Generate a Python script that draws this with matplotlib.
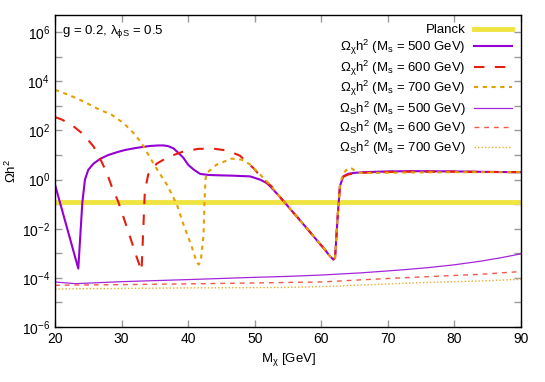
import numpy as np
import matplotlib
matplotlib.use("Agg")
import matplotlib.pyplot as plt
from matplotlib.ticker import FixedLocator, NullFormatter

plt.rcParams['font.family'] = ['Liberation Sans', 'DejaVu Sans']
plt.rcParams['mathtext.fontset'] = 'custom'
plt.rcParams['mathtext.rm'] = 'Liberation Sans'
plt.rcParams['mathtext.it'] = 'Liberation Sans:italic'
plt.rcParams['mathtext.bf'] = 'Liberation Sans:bold'
plt.rcParams['mathtext.default'] = 'regular'

# %% data
planck = 0.12

m_chi500 = [20.0, 23.5, 24.1, 24.5, 25.0, 25.8, 26.8, 28.0, 29.3, 30.5, 31.8, 33.0, 34.3, 35.5,
            36.3, 37.0, 37.8, 38.5, 39.3, 40.0, 40.8, 41.8, 43.0, 44.3, 46.5, 49.3, 50.8, 51.8,
            52.3, 53.5, 54.5, 55.5, 56.5, 57.5, 58.5, 59.5, 60.5, 61.3, 61.8, 62.06, 62.5, 62.8,
            63.3, 64.0, 64.8, 66.3, 70.0, 73.8, 80.0, 85.0, 90.0]
om_chi500 = [0.63, 2.4e-4, 0.11, 1.0, 2.5, 4.5, 7.0, 10.0, 13.0, 16.0, 18.6, 21.0, 23.4, 24.5,
             24.6, 23.0, 18.6, 12.5, 7.6, 4.0, 2.6, 1.7, 1.55, 1.5, 1.45, 1.35, 1.0, 0.72,
             0.54, 0.24, 0.117, 0.056, 0.0275, 0.0132, 0.0063, 0.003, 0.00145, 7.6e-4, 5.6e-4, 6.5e-4, 0.045, 0.54,
             1.35, 1.7, 1.86, 2.0, 2.15, 2.2, 2.15, 2.05, 2.0]

m_chi600 = [20.0, 21.0, 22.5, 24.3, 25.8, 26.8, 27.8, 28.5, 29.5, 31.0, 32.3, 33.0, 33.3, 33.5,
            34.0, 34.5, 35.3, 37.0, 39.3, 41.5, 43.8, 46.0, 47.8, 49.8, 51.3, 52.8, 53.5, 54.5,
            55.5, 56.5, 57.5, 58.5, 59.5, 60.5, 61.3, 61.8, 62.06, 62.5, 62.8, 63.3, 64.0, 64.8,
            66.3, 70.0, 73.8, 80.0, 85.0, 90.0]
om_chi600 = [350.0, 280.0, 170.0, 68.0, 22.0, 6.9, 1.86, 0.54, 0.126, 7.9e-3, 6.6e-4, 1.9e-4, 0.017, 0.34,
             1.6, 2.6, 4.5, 8.3, 14.0, 17.8, 18.2, 15.0, 9.3, 2.95, 1.0, 0.46, 0.24, 0.117,
             0.056, 0.0275, 0.0132, 0.0063, 0.003, 0.00145, 7.6e-4, 5.6e-4, 6.5e-4, 0.045, 0.54, 1.3, 1.6, 1.75,
             1.9, 2.05, 2.1, 2.1, 2.05, 2.0]

m_chi700 = [20.0, 22.3, 24.3, 26.5, 28.5, 30.3, 31.8, 33.0, 34.3, 35.5, 36.8, 38.3, 39.3, 40.5,
            41.3, 41.6, 41.9, 42.3, 42.45, 42.6, 42.8, 44.3, 46.5, 48.0, 49.3, 50.8, 52.3, 53.5,
            54.5, 55.5, 56.5, 57.5, 58.5, 59.5, 60.5, 61.3, 61.8, 62.06, 62.5, 62.8, 63.3, 64.1,
            64.6, 65.3, 66.3, 70.0, 73.8, 80.0, 85.0, 90.0]
om_chi700 = [4500.0, 2630.0, 1510.0, 740.0, 437.0, 200.0, 78.0, 31.0, 7.6, 2.2, 0.63, 0.098, 0.0148, 2.0e-3,
             4.2e-4, 3.5e-4, 5.0e-4, 5.0e-3, 0.11, 1.0, 1.86, 4.1, 7.1, 6.5, 4.1, 1.6, 0.63, 0.24,
             0.117, 0.056, 0.0275, 0.0132, 0.0063, 0.003, 0.00145, 7.6e-4, 5.6e-4, 6.5e-4, 0.045, 0.6, 1.8, 3.0,
             2.8, 2.0, 1.85, 1.9, 1.95, 2.0, 2.0, 2.0]

m_s = [20, 23, 30, 40, 50, 55, 60, 66, 72, 76, 80, 84, 87, 90]
om_s500 = [6.8e-5, 5.8e-5, 7.0e-5, 8.5e-5, 1.05e-4, 1.15e-4, 1.3e-4, 1.6e-4, 2.1e-4, 2.6e-4, 3.4e-4, 4.8e-4, 6.6e-4, 9.5e-4]
om_s600 = [5.0e-5, 5.1e-5, 5.3e-5, 5.7e-5, 6.2e-5, 6.5e-5, 6.8e-5, 8.3e-5, 1.0e-4, 1.12e-4, 1.25e-4, 1.4e-4, 1.6e-4, 1.8e-4]
om_s700 = [3.5e-5, 3.6e-5, 3.7e-5, 3.9e-5, 4.0e-5, 4.1e-5, 4.4e-5, 5.1e-5, 5.9e-5, 6.5e-5, 7.0e-5, 7.5e-5, 8.1e-5, 8.7e-5]

c_purple = '#9400d3'
c_red = '#e51e10'
c_orange = '#e69f00'
c_yellow = '#f0e442'

# %%
fig = plt.figure(figsize=(5.45, 3.82), dpi=100)
ax = fig.add_axes([0.1009, 0.144, 0.8551, 0.8167])

ax.axhline(planck, color=c_yellow, lw=3.5, label='Planck')
ax.plot(m_chi500, om_chi500, color=c_purple, lw=1.5, label=r'$\Omega_\chi h^2$ ($M_s$ = 500 GeV)')
ax.plot(m_chi600, om_chi600, color=c_red, lw=1.5, dashes=(5, 5), label=r'$\Omega_\chi h^2$ ($M_s$ = 600 GeV)')
ax.plot(m_chi700, om_chi700, color=c_orange, lw=1.5, dashes=(2, 2.2), label=r'$\Omega_\chi h^2$ ($M_s$ = 700 GeV)')
ax.plot(m_s, om_s500, color=c_purple, lw=0.9, alpha=0.85, label=r'$\Omega_S h^2$ ($M_s$ = 500 GeV)')
ax.plot(m_s, om_s600, color='#f05a4a', lw=1.0, dashes=(3.5, 3.5), label=r'$\Omega_S h^2$ ($M_s$ = 600 GeV)')
ax.plot(m_s, om_s700, color='#eaae2a', lw=1.0, dashes=(1, 1.5), label=r'$\Omega_S h^2$ ($M_s$ = 700 GeV)')

ax.set_yscale('log')
ax.set_xlim(20, 90)
ax.set_ylim(1e-6, 5e6)
ax.set_xticks(np.arange(20, 91, 10))
ax.yaxis.set_major_locator(FixedLocator([1e-6, 1e-4, 1e-2, 1e0, 1e2, 1e4, 1e6]))
ax.yaxis.set_minor_locator(FixedLocator([1e-5, 1e-3, 1e-1, 1e1, 1e3, 1e5]))
ax.yaxis.set_minor_formatter(NullFormatter())
ax.set_yticklabels([r'$10^{-6}$', r'$10^{-4}$', r'$10^{-2}$', r'$10^{0}$', r'$10^{2}$', r'$10^{4}$', r'$10^{6}$'])
ax.tick_params(which='both', direction='in', top=True, right=True, color='#999999',
               labelsize=10, length=5, width=1)
ax.tick_params(which='minor', length=5)
for s in ax.spines.values():
    s.set_linewidth(1)

ax.set_xlabel(r'$M_\chi$ [GeV]', fontsize=9.5, labelpad=4)
ax.set_ylabel(r'$\Omega h^2$', fontsize=9.5, labelpad=2)
ax.text(0.015, 0.975, r'g = 0.2, $\lambda_{\phi S}$ = 0.5', transform=ax.transAxes,
        ha='left', va='top', fontsize=9.5)

ax.legend(loc='upper right', frameon=False, markerfirst=False, fontsize=9.5,
          handlelength=2.9, labelspacing=0.1, borderaxespad=0.3, handletextpad=0.6)

fig.savefig('out.png', dpi=100)
